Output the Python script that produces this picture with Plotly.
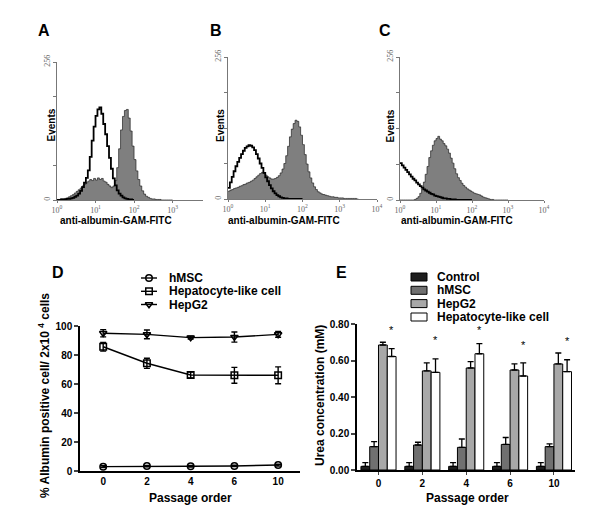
import plotly.graph_objects as go

# ---------------- data ----------------
# Flow-cytometry histograms: counts per bin, bins start at log10 = 0, 0.05 decade wide
hist_bin_start = 0.0
hist_bin_width = 0.05

A_stained = [1, 1, 2, 2, 3, 4, 6, 8, 10, 13, 16, 19, 22, 26, 29, 32, 35, 38, 36, 40,
             37, 41, 38, 40, 35, 33, 29, 26, 23, 26, 36, 60, 95, 130, 155, 166, 168, 152, 128, 100,
             75, 54, 38, 26, 17, 11, 7, 5, 3, 2, 2, 1, 1, 1, 0, 0, 0, 0, 0, 0, 0]
A_control = [0, 0, 1, 1, 1, 2, 2, 3, 4, 6, 8, 12, 17, 24, 32, 41, 55, 80, 110, 136,
             156, 168, 172, 160, 141, 122, 100, 78, 58, 40, 27, 18, 12, 8, 5, 3, 2, 1, 1, 0, 0]
B_stained = [14, 16, 17, 19, 20, 21, 23, 24, 26, 27, 29, 30, 32, 34, 37, 40, 43, 46, 48, 46,
             43, 40, 38, 36, 36, 37, 39, 42, 47, 54, 64, 78, 95, 112, 126, 136, 142, 140, 130, 115,
             98, 80, 63, 49, 38, 29, 22, 17, 13, 11, 9, 8, 7, 6, 5, 4, 4, 3, 3, 2,
             2, 2, 1, 1, 1, 1, 1, 1, 1, 0, 0]
B_control = [20, 30, 40, 50, 59, 67, 74, 81, 87, 92, 95, 97, 96, 93, 88, 81, 73, 64, 56, 47,
             39, 32, 25, 19, 14, 10, 7, 5, 3, 2, 1, 1, 0, 0, 0, 0, 0, 0, 0, 0, 0]
C_stained = [0, 0, 0, 0, 0, 0, 0, 0, 1, 3, 6, 12, 20, 32, 46, 60, 76, 88, 98, 106,
             110, 114, 109, 106, 101, 97, 91, 84, 75, 66, 56, 47, 40, 35, 30, 26, 23, 20, 18, 16,
             14, 12, 11, 10, 9, 7, 5, 4, 3, 2, 1, 1, 0, 0, 0, 0, 0, 0, 0, 0, 0]
C_control = [66, 62, 58, 54, 50, 46, 42, 38, 35, 31, 28, 25, 22, 19, 17, 15, 13, 11, 10, 8,
             7, 6, 5, 4, 3, 3, 2, 2, 1, 1, 1, 0, 0, 0, 0, 0, 0, 0, 0, 0, 0]
decade_ticks = [0, 1, 2, 3, 4]
decade_labels = ["10<sup>0</sup>", "10<sup>1</sup>", "10<sup>2</sup>", "10<sup>3</sup>", "10<sup>4</sup>"]
event_ticks = [0, 64, 128, 192, 256]
event_labels = ["0", "", "", "", "256"]

# Panel D
passages = ["0", "2", "4", "6", "10"]
albumin_hmsc = [3.0, 3.4, 3.3, 3.5, 4.1]
albumin_hmsc_err = [0.6, 0.5, 0.5, 0.5, 0.6]
albumin_hep_like = [85.7, 74.3, 66.2, 66.0, 66.0]
albumin_hep_like_err = [3.0, 3.5, 2.0, 5.5, 5.8]
albumin_hepg2 = [95.0, 94.2, 92.0, 92.4, 94.2]
albumin_hepg2_err = [2.5, 3.0, 1.0, 3.5, 2.0]

# Panel E
urea_control = [0.02, 0.02, 0.02, 0.02, 0.02]
urea_control_err = [0.02, 0.02, 0.02, 0.02, 0.02]
urea_hmsc = [0.128, 0.137, 0.124, 0.140, 0.128]
urea_hmsc_err = [0.027, 0.015, 0.046, 0.038, 0.015]
urea_hepg2 = [0.685, 0.543, 0.559, 0.548, 0.581]
urea_hepg2_err = [0.015, 0.044, 0.035, 0.033, 0.060]
urea_hep_like = [0.622, 0.535, 0.637, 0.515, 0.539]
urea_hep_like_err = [0.043, 0.074, 0.056, 0.072, 0.065]
star_y = [0.765, 0.71, 0.765, 0.685, 0.705]

# ---------------- helpers ----------------
W, H = 600, 514
def px(x):
    return x / W
def py(y):
    return 1 - y / H

SANS = "Liberation Sans, Arial, sans-serif"
SERIF = "Liberation Serif, Times New Roman, serif"
GRAY_FILL = "#7f7f7f"

fig = go.Figure()

# ---------------- histograms A, B, C ----------------
hists = [("", "", A_stained, A_control), ("2", "2", B_stained, B_control), ("3", "3", C_stained, C_control)]
for xa, ya, stained, control in hists:
    fig.add_trace(go.Scatter(x0=hist_bin_start, dx=hist_bin_width, y=stained, mode="lines",
                             line=dict(color="#222", width=0.7, shape="hv"), fill="tozeroy",
                             fillcolor=GRAY_FILL, xaxis="x" + xa, yaxis="y" + ya, showlegend=False))
    fig.add_trace(go.Scatter(x0=hist_bin_start, dx=hist_bin_width, y=control, mode="lines",
                             line=dict(color="black", width=1.8, shape="hv"),
                             xaxis="x" + xa, yaxis="y" + ya, showlegend=False))

hist_geom = {
    "xaxis": ([57, 203], [0, 3.79]), "xaxis2": ([228, 377], [0, 4]), "xaxis3": ([400, 544], [0, 4]),
}
hist_ygeom = {"yaxis": (62, 200), "yaxis2": (57, 199), "yaxis3": (57, 200)}
tickfont_h = dict(family=SERIF, size=8, color="#666")
for i, (k, (dom, rng)) in enumerate(hist_geom.items()):
    yk = "yaxis" + ("" if i == 0 else str(i + 1))
    anchor = "y" + ("" if i == 0 else str(i + 1))
    fig.layout[k] = dict(domain=[px(dom[0]), px(dom[1])], range=rng, anchor=anchor,
                         showline=True, linecolor="#777", linewidth=1, ticks="outside", ticklen=2,
                         tickcolor="#777", tickvals=decade_ticks, ticktext=decade_labels,
                         tickfont=tickfont_h, showgrid=False, zeroline=False, automargin=False)
    t, b = hist_ygeom[yk]
    fig.layout[yk] = dict(domain=[py(b), py(t)], range=[0, 256], anchor=anchor.replace("y", "x"),
                          showline=True, linecolor="#777", linewidth=1, ticks="outside", ticklen=3,
                          tickcolor="#777", tickvals=event_ticks, ticktext=event_labels,
                          tickangle=-90, tickfont=tickfont_h, showgrid=False, zeroline=False,
                          automargin=False)

# ---------------- panel D ----------------
series_d = [
    ("hMSC", albumin_hmsc, albumin_hmsc_err, "circle-open"),
    ("Hepatocyte-like cell", albumin_hep_like, albumin_hep_like_err, "square-open"),
    ("HepG2", albumin_hepg2, albumin_hepg2_err, "triangle-down-open"),
]
for name, vals, err, sym in series_d:
    fig.add_trace(go.Scatter(x=passages, y=vals, name=name, mode="lines+markers",
                             line=dict(color="black", width=1.4),
                             marker=dict(symbol=sym, size=6.5, color="black", line=dict(width=1.5)),
                             error_y=dict(type="data", array=err, color="black", thickness=1.4, width=3),
                             xaxis="x4", yaxis="y4", showlegend=False))

axfont = dict(family=SANS, size=10, color="black", weight="bold")
fig.layout.xaxis4 = dict(domain=[px(80), px(300)], range=[-0.53, 4.5], anchor="y4", type="category",
                         showline=True, linecolor="black", linewidth=1.5, ticks="",
                         tickfont=axfont, showgrid=False, zeroline=False, automargin=False)
fig.layout.yaxis4 = dict(domain=[py(471), py(326)], range=[0, 100], anchor="x4",
                         tickvals=[0, 20, 40, 60, 80, 100], showline=True, linecolor="black",
                         linewidth=1.5, ticks="outside", ticklen=4, tickwidth=1.5,
                         tickfont=axfont, showgrid=False, zeroline=False, automargin=False)

# ---------------- panel E ----------------
series_e = [
    ("Control", urea_control, urea_control_err, "#1e1e1e"),
    ("hMSC", urea_hmsc, urea_hmsc_err, "#707070"),
    ("HepG2", urea_hepg2, urea_hepg2_err, "#a8a8a8"),
    ("Hepatocyte-like cell", urea_hep_like, urea_hep_like_err, "white"),
]
for name, vals, err, col in series_e:
    fig.add_trace(go.Bar(x=passages, y=vals, name=name, marker=dict(color=col, line=dict(color="black", width=1)),
                         error_y=dict(type="data", symmetric=False, array=err,
                                      arrayminus=[0] * len(err), color="black", thickness=1.3, width=3),
                         xaxis="x5", yaxis="y5", showlegend=False))
fig.update_layout(barmode="group", bargap=0.2, bargroupgap=0)
fig.layout.xaxis5 = dict(domain=[px(357), px(575)], range=[-0.49, 4.48], anchor="y5", type="category",
                         showline=True, linecolor="black", linewidth=1.5, ticks="outside", ticklen=3,
                         tickwidth=1, tickfont=axfont, showgrid=False, zeroline=False, automargin=False)
fig.layout.yaxis5 = dict(domain=[py(470), py(324)], range=[0, 0.8], anchor="x5",
                         tickvals=[0, 0.2, 0.4, 0.6, 0.8], tickformat=".2f", showline=True,
                         linecolor="black", linewidth=1.5, ticks="outside", ticklen=4, tickwidth=1.5,
                         tickfont=axfont, showgrid=False, zeroline=False, automargin=False)

for i, sy in enumerate(star_y):
    fig.add_annotation(x=i + 0.3, y=sy, xref="x5", yref="y5", text="*", showarrow=False,
                       font=dict(family=SANS, size=11, color="black"))

# ---------------- legend glyphs (overlay axis in pixel units) ----------------
fig.layout.xaxis6 = dict(domain=[0, 1], range=[0, W], visible=False, fixedrange=True, automargin=False)
fig.layout.yaxis6 = dict(domain=[0, 1], range=[H, 0], visible=False, fixedrange=True, automargin=False)
leg_d_rows = [278, 291.3, 304.5]
for (name, vals, err, sym), ry in zip(series_d, leg_d_rows):
    fig.add_trace(go.Scatter(x=[141, 157], y=[ry, ry], mode="lines", line=dict(color="black", width=1.4),
                             xaxis="x6", yaxis="y6", showlegend=False, hoverinfo="skip"))
    fig.add_trace(go.Scatter(x=[149], y=[ry], mode="markers",
                             marker=dict(symbol=sym, size=6.5, color="black", line=dict(width=1.5)),
                             xaxis="x6", yaxis="y6", showlegend=False, hoverinfo="skip"))
    fig.add_annotation(x=px(167), y=py(ry), xref="paper", yref="paper", text=name, showarrow=False,
                       xanchor="left", yanchor="middle",
                       font=dict(family=SANS, size=12, color="black", weight="bold"))

leg_e_rows = [277, 290.3, 303.6, 317]
for (name, vals, err, col), ry in zip(series_e, leg_e_rows):
    fig.add_shape(type="rect", xref="paper", yref="paper", x0=px(411), x1=px(427),
                  y0=py(ry + 4), y1=py(ry - 4), fillcolor=col, line=dict(color="black", width=1))
    fig.add_annotation(x=px(435), y=py(ry), xref="paper", yref="paper", text=name, showarrow=False,
                       xanchor="left", yanchor="middle",
                       font=dict(family=SANS, size=12, color="black", weight="bold"))

# ---------------- text ----------------
bold = lambda s: dict(family=SANS, size=s, color="black", weight="bold")
texts = [
    ("A", 44, 30, 16, 0), ("B", 215.5, 30, 16, 0), ("C", 385, 30, 16, 0),
    ("D", 57.5, 272.5, 16, 0), ("E", 342, 272.5, 16, 0),
    ("Events", 50.5, 125, 10, -90), ("Events", 220, 125, 10, -90), ("Events", 389.5, 126, 10, -90),
    ("anti-albumin-GAM-FITC", 115.5, 220, 10, 0), ("anti-albumin-GAM-FITC", 284, 220, 10, 0),
    ("anti-albumin-GAM-FITC", 457, 220, 10, 0),
    ("Passage order", 190, 498, 12, 0), ("Passage order", 467, 498, 12, 0),
    ("% Albumin positive cell/ 2x10 <sup>4</sup> cells", 44, 396, 12, -90),
    ("Urea concentration (mM)", 320, 396, 12, -90),
]
for t, x, y, s, ang in texts:
    fig.add_annotation(x=px(x), y=py(y), xref="paper", yref="paper", text=t, showarrow=False,
                       xanchor="center", yanchor="middle", textangle=ang, font=bold(s))

fig.update_layout(template="none", width=W, height=H, margin=dict(l=0, r=0, t=0, b=0, autoexpand=False),
                  paper_bgcolor="white", plot_bgcolor="rgba(0,0,0,0)", showlegend=False)

# the page's default 8px body margin would push the 600x514 figure off the window
fig.write_html("out.html", config={"displayModeBar": False},
               post_script="document.body.style.margin='0';")
